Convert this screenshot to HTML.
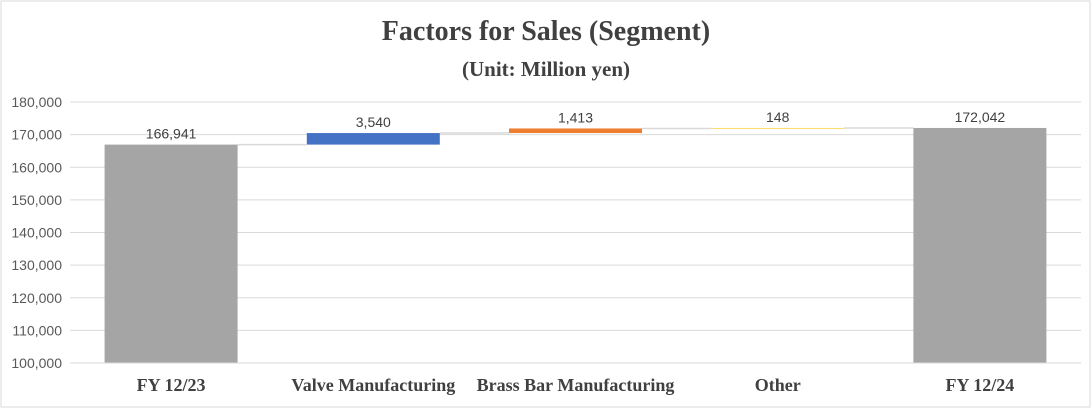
<!DOCTYPE html>
<html><head><meta charset="utf-8"><style>
html,body{margin:0;padding:0;background:#fff}
svg{display:block}
</style></head><body>
<svg id="chart" width="1092" height="409" xmlns="http://www.w3.org/2000/svg">
<rect x="1" y="1" width="1089" height="406" fill="#fff" stroke="#d9d9d9"/>
<text x="546" y="40" text-anchor="middle" font-family="Liberation Serif, serif" font-weight="bold" font-size="28" fill="#404040">Factors for Sales (Segment)</text>
<text x="546" y="76" text-anchor="middle" font-family="Liberation Serif, serif" font-weight="bold" font-size="21" fill="#404040">(Unit: Million yen)</text>
<g id="grid"></g><g id="bars"></g><g id="labels"></g>
</svg>
<script>
const categories=["FY 12/23","Valve Manufacturing","Brass Bar Manufacturing","Other","FY 12/24"];
const values=[166941,3540,1413,148,172042];
const kinds=["total","delta","delta","delta","total"];
const valueLabels=["166,941","3,540","1,413","148","172,042"];
const yTicks=[100000,110000,120000,130000,140000,150000,160000,170000,180000];
const yTickLabels=["100,000","110,000","120,000","130,000","140,000","150,000","160,000","170,000","180,000"];
const colors={"FY 12/23":"#a5a5a5","Valve Manufacturing":"#4472c4","Brass Bar Manufacturing":"#ed7d31","Other":"#ffc000","FY 12/24":"#a5a5a5"};
const NS="http://www.w3.org/2000/svg";
const L=70,R=1081,T=102,B=363,yMin=100000,yMax=180000;
const y=v=>B-(v-yMin)/(yMax-yMin)*(B-T);
const band=(R-L)/categories.length;
const xc=i=>L+band*(i+0.5);
const bw=133;
function mk(tag,attrs,parent){const e=document.createElementNS(NS,tag);for(const k in attrs)e.setAttribute(k,attrs[k]);parent.appendChild(e);return e;}
const grid=document.getElementById('grid'),bars=document.getElementById('bars'),labels=document.getElementById('labels');
yTicks.forEach((t,i)=>{
  const ln=mk('line',{x1:L,x2:R,y1:y(t),y2:y(t),stroke:'#d9d9d9','stroke-width':1},grid);
  
  
  const tx=mk('text',{x:L-8,y:y(t)+5,'text-anchor':'end','font-family':'Liberation Sans, sans-serif','font-size':14,fill:'#595959'},grid);
  tx.textContent=yTickLabels[i];
  
  
});
let cum=0;const tops=[];
values.forEach((v,i)=>{
  let lo,hi;
  if(kinds[i]==="total"){lo=yMin;hi=v;cum=v;}else{lo=cum;hi=cum+v;cum=hi;}
  tops.push(cum);
  const yt=y(hi),yb=y(Math.max(lo,yMin));
  const r=mk('rect',{x:xc(i)-bw/2,y:yt,width:bw,height:Math.max(yb-yt,0.6),fill:colors[categories[i]]},bars);
  
  
  const lb=mk('text',{x:xc(i),y:yt-6,'text-anchor':'middle','font-family':'Liberation Sans, sans-serif','font-size':14,fill:'#404040'},labels);
  lb.textContent=valueLabels[i];
  
  
  const cl=mk('text',{x:xc(i),y:391,'text-anchor':'middle','font-family':'Liberation Serif, serif','font-weight':'bold','font-size':18,fill:'#404040'},labels);
  cl.textContent=categories[i];
  
  
});
for(let i=0;i<values.length-1;i++){
  const c=mk('line',{x1:xc(i)+bw/2,x2:xc(i+1)-bw/2,y1:y(tops[i]),y2:y(tops[i]),stroke:'#d9d9d9','stroke-width':1.5},bars);
  
  
}
const ax=mk('line',{x1:L,x2:R,y1:B,y2:B,stroke:'#d9d9d9','stroke-width':1},bars);


</script>
</body></html>
